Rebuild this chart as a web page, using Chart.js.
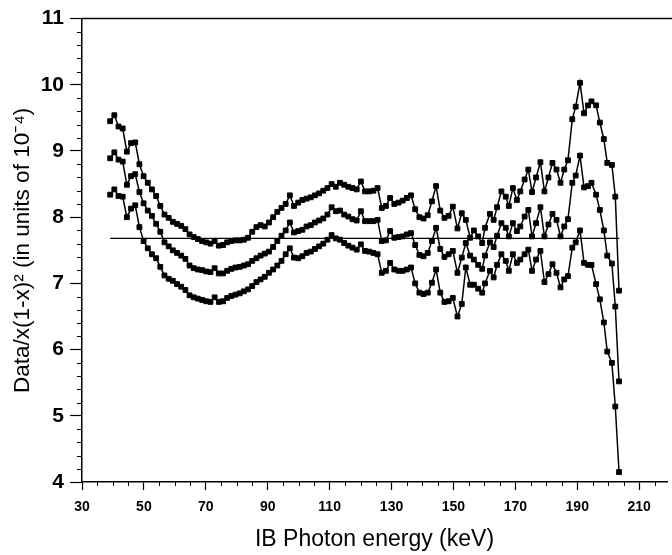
<!DOCTYPE html>
<html>
<head>
<meta charset="utf-8">
<title>IB photon energy spectrum</title>
<script src="https://cdn.jsdelivr.net/npm/chart.js@4.4.0/dist/chart.umd.min.js"></script>
<style>
  html, body { margin: 0; padding: 0; background: #fff; }
  #wrap { width: 672px; height: 555px; }
</style>
</head>
<body>
<div id="wrap"><canvas id="ibChart" width="672" height="555"></canvas></div>
<script>
// ── Data: photon energy (keV) and Data/x(1-x)^2 in units of 1e-4 ──
const energy = [
  39.1, 40.45, 41.8, 43.15, 44.5, 45.85, 47.2, 48.55, 49.9, 51.25,
  52.6, 53.95, 55.3, 56.65, 58.0, 59.35, 60.7, 62.05, 63.4, 64.75,
  66.1, 67.45, 68.8, 70.15, 71.5, 72.85, 74.2, 75.55, 76.9, 78.25,
  79.6, 80.95, 82.3, 83.65, 85.0, 86.35, 87.7, 89.05, 90.4, 91.75,
  93.1, 94.45, 95.8, 97.15, 98.5, 99.85, 101.2, 102.55, 103.9, 105.25,
  106.6, 107.95, 109.3, 110.65, 112.0, 113.35, 114.7, 116.05, 117.4, 118.75,
  120.1, 121.45, 122.8, 124.15, 125.5, 126.85, 128.2, 129.55, 130.9, 132.25,
  133.6, 134.95, 136.3, 137.65, 139.0, 140.35, 141.7, 143.05, 144.4, 145.75,
  147.1, 148.45, 149.8,
  151.3, 152.7, 154.0, 155.4, 156.6, 158.0, 159.3, 160.2, 161.8, 163.0,
  164.1, 165.5, 166.9, 167.9, 169.2, 170.5, 171.6, 173.0, 174.2, 175.4,
  176.7, 178.1, 179.4, 180.7, 182.0, 183.3, 184.6, 185.8, 187.0, 188.4,
  189.5, 190.9, 192.2, 193.5, 194.6, 196.1, 197.3, 198.6, 199.7, 201.2,
  202.3, 203.5
];

const upperBand = [
  9.45, 9.54, 9.37, 9.34, 8.99, 9.12, 9.13, 8.80, 8.62, 8.52,
  8.42, 8.32, 8.17, 8.04, 7.99, 7.93, 7.90, 7.87, 7.82, 7.74,
  7.70, 7.67, 7.64, 7.62, 7.60, 7.64, 7.57, 7.58, 7.62, 7.64,
  7.65, 7.65, 7.66, 7.69, 7.78, 7.85, 7.88, 7.86, 7.92, 8.00,
  8.08, 8.14, 8.20, 8.33, 8.17, 8.22, 8.26, 8.28, 8.30, 8.33,
  8.36, 8.40, 8.44, 8.50, 8.46, 8.52, 8.49, 8.46, 8.44, 8.42,
  8.54, 8.39, 8.39, 8.40, 8.44, 8.14, 8.17, 8.29, 8.20, 8.22,
  8.25, 8.29, 8.33, 8.12, 8.00, 7.98, 8.03, 8.24, 8.47, 8.10,
  7.99, 8.02, 8.16,
  7.83, 8.06, 7.96, 7.69, 7.80, 7.71, 7.61, 7.84, 8.05, 7.96,
  8.15, 8.39, 8.31, 8.17, 8.44, 8.26, 8.39, 8.57, 8.72, 8.38,
  8.60, 8.83, 8.39, 8.60, 8.82, 8.72, 8.52, 8.72, 8.86, 9.48,
  9.67, 10.03, 9.57, 9.69, 9.75, 9.69, 9.43, 9.18, 8.82, 8.79,
  8.31, 6.89
];

const central = [
  8.89, 8.98, 8.87, 8.84, 8.49, 8.62, 8.65, 8.38, 8.21, 8.10,
  8.02, 7.90, 7.78, 7.62, 7.56, 7.50, 7.46, 7.42, 7.37, 7.27,
  7.23, 7.21, 7.20, 7.18, 7.17, 7.23, 7.15, 7.15, 7.19, 7.22,
  7.24, 7.25, 7.27, 7.29, 7.34, 7.38, 7.42, 7.45, 7.48, 7.55,
  7.64, 7.72, 7.80, 7.92, 7.77, 7.79, 7.81, 7.86, 7.88, 7.92,
  7.95, 7.98, 8.04, 8.15, 8.09, 8.10, 8.04, 8.01, 7.97, 7.95,
  8.09, 7.94, 7.94, 7.94, 7.96, 7.64, 7.65, 7.79, 7.69, 7.70,
  7.71, 7.74, 7.76, 7.58, 7.43, 7.41, 7.46, 7.64, 7.84, 7.52,
  7.40, 7.44, 7.49,
  7.16, 7.39, 7.61, 7.42, 7.36, 7.28, 7.22, 7.42, 7.62, 7.55,
  7.72, 7.91, 7.84, 7.71, 7.91, 7.79, 7.86, 8.01, 8.11, 7.71,
  7.91, 8.15, 7.71, 7.89, 8.05, 7.96, 7.71, 7.86, 7.97, 8.52,
  8.63, 8.93, 8.45, 8.47, 8.52, 8.34, 8.11, 7.80, 7.42, 7.30,
  6.65, 5.52
];

const lowerBand = [
  8.34, 8.42, 8.32, 8.31, 8.00, 8.13, 8.18, 7.85, 7.64, 7.53,
  7.44, 7.38, 7.25, 7.12, 7.07, 7.04, 6.99, 6.95, 6.90, 6.82,
  6.79, 6.77, 6.75, 6.73, 6.72, 6.79, 6.72, 6.73, 6.78, 6.81,
  6.83, 6.85, 6.88, 6.91, 6.96, 7.02, 7.06, 7.10, 7.16, 7.21,
  7.27, 7.34, 7.44, 7.53, 7.39, 7.38, 7.41, 7.46, 7.48, 7.52,
  7.56, 7.60, 7.66, 7.73, 7.68, 7.66, 7.61, 7.57, 7.54, 7.51,
  7.59, 7.49, 7.48, 7.46, 7.44, 7.16, 7.19, 7.31, 7.21, 7.19,
  7.19, 7.21, 7.24, 7.00, 6.86, 6.84, 6.86, 7.01, 7.21, 6.86,
  6.72, 6.73, 6.78,
  6.50, 6.69, 7.24, 6.98, 6.98, 6.92, 6.86, 7.00, 7.19, 7.09,
  7.28, 7.44, 7.34, 7.19, 7.44, 7.31, 7.36, 7.44, 7.51, 7.19,
  7.36, 7.49, 7.02, 7.14, 7.29, 7.16, 6.94, 7.06, 7.11, 7.54,
  7.62, 7.80, 7.31, 7.28, 7.28, 6.99, 6.76, 6.41, 5.97, 5.80,
  5.14, 4.15
];

// flat reference level and the energy span it covers
const refLevel = 7.68;
const refSpan = [39.1, 203.6];

const xTickValues = [30, 50, 70, 90, 110, 130, 150, 170, 190, 210];
const yTickValues = [4, 5, 6, 7, 8, 9, 10, 11];

const FONT = "'Liberation Sans', Arial, Helvetica, sans-serif";

// ── Minor ticks + top frame line ──
const frameTicks = {
    id: 'frameTicks',
    afterDraw(chart) {
        const { ctx, chartArea: a, scales: { x, y } } = chart;
        ctx.save();
        ctx.strokeStyle = '#000';
        ctx.lineWidth = 1;
        ctx.beginPath();
        for (let v = 30; v <= 219; v += 5) {
            if ((v - 30) % 20 === 0) continue;
            const px = Math.round(x.getPixelForValue(v)) + 0.5;
            ctx.moveTo(px, a.bottom);
            ctx.lineTo(px, a.bottom + 4);
        }
        for (let k = 0; k <= 35; k++) {
            if (k % 5 === 0) continue;
            const py = Math.round(y.getPixelForValue(4 + k * 0.2)) + 0.5;
            ctx.moveTo(a.left - 5, py);
            ctx.lineTo(a.left, py);
        }
        ctx.stroke();
        ctx.lineWidth = 1.5;
        ctx.beginPath();
        ctx.moveTo(a.left, a.top);
        ctx.lineTo(chart.width, a.top);
        ctx.stroke();
        ctx.restore();
    }
};

function bandDataset(values) {
    return {
        data: energy.map((e, i) => ({ x: e, y: values[i] })),
        borderColor: '#000',
        borderWidth: 1.5,
        tension: 0,
        pointStyle: 'rect',
        pointRadius: 3.4,
        pointBorderWidth: 1,
        pointBackgroundColor: '#000',
        pointBorderColor: '#000',
    };
}

new Chart(document.getElementById('ibChart'), {
    type: 'line',
    data: {
        datasets: [
            bandDataset(upperBand),
            bandDataset(central),
            bandDataset(lowerBand),
            {
                data: refSpan.map(e => ({ x: e, y: refLevel })),
                borderColor: '#000',
                borderWidth: 1.2,
                pointRadius: 0,
            }
        ]
    },
    options: {
        responsive: false,
        animation: false,
        layout: { padding: { top: 17, right: 0, bottom: 0, left: 0 } },
        plugins: { legend: { display: false }, tooltip: { enabled: false } },
        scales: {
            x: {
                type: 'linear', min: 30, max: 219,
                afterBuildTicks: s => { s.ticks = xTickValues.map(v => ({ value: v })); },
                afterFit: s => { s.height = 73; },
                grid: { display: true, drawOnChartArea: false, drawTicks: true, tickLength: 8, tickColor: '#000', tickWidth: 1.2 },
                border: { display: true, color: '#000', width: 1.5 },
                ticks: { color: '#000', autoSkip: false, maxRotation: 0, padding: 9,
                         font: { family: FONT, size: 14, weight: 'bold' } },
                title: { display: true, text: 'IB Photon energy (keV)', color: '#000',
                         font: { family: FONT, size: 23 }, padding: { top: 0, bottom: 2 } }
            },
            y: {
                min: 4, max: 11,
                afterBuildTicks: s => { s.ticks = yTickValues.map(v => ({ value: v })); },
                afterFit: s => { s.width = 82; },
                grid: { display: true, drawOnChartArea: false, drawTicks: true, tickLength: 12, tickColor: '#000', tickWidth: 1.2 },
                border: { display: true, color: '#000', width: 1.5 },
                ticks: { color: '#000', padding: 6, font: { family: FONT, size: 21, weight: 'bold' } },
                title: { display: true, text: 'Data/x(1-x)² (in units of 10⁻⁴)', color: '#000',
                         font: { family: FONT, size: 22.5 }, padding: { top: 9, bottom: 0 } }
            }
        }
    },
    plugins: [frameTicks]
});
</script>
</body>
</html>
